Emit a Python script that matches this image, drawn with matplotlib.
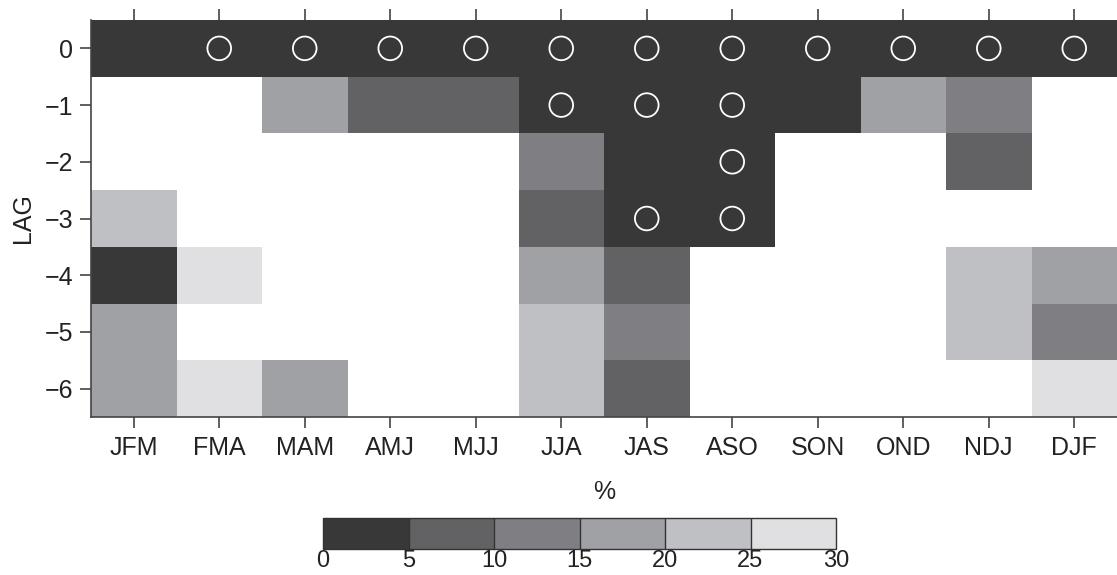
import numpy as np
import matplotlib
matplotlib.use("Agg")
import matplotlib.pyplot as plt
from matplotlib.colors import ListedColormap, BoundaryNorm

plt.rcParams['font.family'] = ['Liberation Sans', 'DejaVu Sans']

seasons = ["JFM", "FMA", "MAM", "AMJ", "MJJ", "JJA", "JAS", "ASO", "SON", "OND", "NDJ", "DJF"]
lags = [0, -1, -2, -3, -4, -5, -6]
nan = np.nan
# percent values (binned 0-5,5-10,...,25-30), NaN = above 30 (white)
values = np.array([
    [2.5, 2.5, 2.5, 2.5, 2.5, 2.5, 2.5, 2.5, 2.5, 2.5, 2.5, 2.5],   # lag 0
    [nan, nan, 17.5, 7.5, 7.5, 2.5, 2.5, 2.5, 2.5, 17.5, 12.5, nan],  # lag -1
    [nan, nan, nan, nan, nan, 12.5, 2.5, 2.5, nan, nan, 7.5, nan],    # lag -2
    [22.5, nan, nan, nan, nan, 7.5, 2.5, 2.5, nan, nan, nan, nan],    # lag -3
    [2.5, 27.5, nan, nan, nan, 17.5, 7.5, nan, nan, nan, 22.5, 17.5], # lag -4
    [17.5, nan, nan, nan, nan, 22.5, 12.5, nan, nan, nan, 22.5, 12.5],# lag -5
    [17.5, 27.5, 17.5, nan, nan, 22.5, 7.5, nan, nan, nan, nan, 27.5],# lag -6
])
# significance markers (season index, lag)
sig_season = [1, 2, 3, 4, 5, 6, 7, 8, 9, 10, 11, 5, 6, 7, 7, 6, 7]
sig_lag = [0, 0, 0, 0, 0, 0, 0, 0, 0, 0, 0, -1, -1, -1, -2, -3, -3]
bounds = [0, 5, 10, 15, 20, 25, 30]
colors = ["#383838", "#626264", "#7f7f83", "#a0a1a4", "#bfc0c3", "#e0e0e2"]

cmap = ListedColormap(colors)
cmap.set_bad("white")
norm = BoundaryNorm(bounds, cmap.N)

fig = plt.figure(figsize=(11.17, 5.75), dpi=100)
ax = fig.add_axes([91/1117, 158/575, 1 - 91/1117, 397/575])

x = np.arange(len(seasons))
ax.pcolormesh(np.arange(len(seasons) + 1) - 0.5,
              np.array(lags + [lags[-1] - 1]) + 0.5,
              np.ma.masked_invalid(values), cmap=cmap, norm=norm, shading='flat')
ax.scatter(sig_season, sig_lag, s=290, facecolors='none', edgecolors='white', linewidths=1.3, zorder=3)

ax.set_xlim(-0.5, len(seasons) - 0.5)
ax.set_ylim(lags[-1] - 0.5, lags[0] + 0.5)
ax.set_xticks(x)
ax.set_xticklabels(seasons)
ax.set_yticks(lags)
ax.set_yticklabels([str(l).replace('-', '\u2212') for l in lags])
ax.tick_params(axis='both', labelsize=18, length=8, width=1.2, color='#444444', direction='out',
               labelcolor='#222222')
ax.tick_params(axis='x', top=True, pad=6)
ax.tick_params(axis='y', pad=5)
for s in ['top', 'right']:
    ax.spines[s].set_visible(False)
for s in ['left', 'bottom']:
    ax.spines[s].set_color('#444444')
    ax.spines[s].set_linewidth(1.2)
ax.set_ylabel("LAG", fontsize=18, labelpad=7, color='#222222')
ax.set_xlabel("%", fontsize=18, labelpad=14, color='#222222')

cax = fig.add_axes([323/1117, 26/575, 513/1117, 31/575])
cb = fig.colorbar(plt.cm.ScalarMappable(norm=norm, cmap=cmap), cax=cax,
                  orientation='horizontal', ticks=bounds, drawedges=True)
cb.outline.set_edgecolor('#333333')
cb.outline.set_linewidth(1.0)
cb.dividers.set_color('#333333')
cb.dividers.set_linewidth(1.0)
cax.tick_params(labelsize=17, length=0, pad=1, labelcolor='#222222')

fig.savefig("out.png", dpi=100)
